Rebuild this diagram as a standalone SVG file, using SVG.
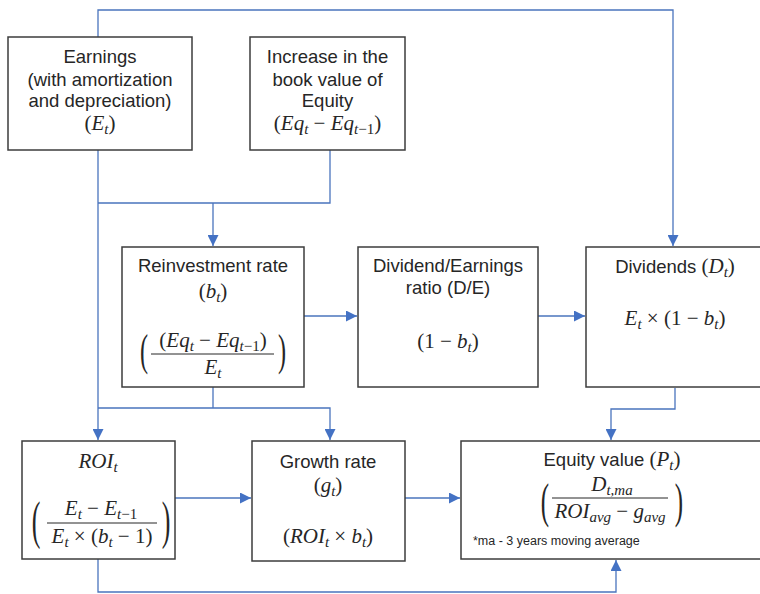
<svg xmlns="http://www.w3.org/2000/svg" width="760" height="594" viewBox="0 0 760 594">
<defs>
<style>
.box{fill:#fff;stroke:#3c3c3c;stroke-width:1.5}
.t{font-family:"Liberation Sans",Arial,sans-serif;font-size:18.5px;fill:#262626;text-anchor:middle}
.fn{font-family:"Liberation Sans",Arial,sans-serif;font-size:12.5px;fill:#262626}
.m{font-family:"Liberation Serif","Times New Roman",serif;font-style:italic;font-size:21px;fill:#262626;text-anchor:middle}
.u{font-style:normal}
.s{font-size:15px}
.p{font-family:"Liberation Serif","Times New Roman",serif;fill:#262626;text-anchor:middle}
.fl{stroke:#262626;stroke-width:1}
.conn{fill:none;stroke:#4a74bd;stroke-width:1.3}
.arr{marker-end:url(#ah)}
</style>
<marker id="ah" viewBox="0 0 10 10" refX="10" refY="5" markerWidth="11" markerHeight="11" markerUnits="userSpaceOnUse" orient="auto">
<path d="M0,0 L10,5 L0,10 Z" fill="#4472c4"/>
</marker>
</defs>
<rect width="760" height="594" fill="#fff"/>

<g id="connectors">
<path class="conn arr" d="M98,37 V10 H673 V246"/>
<path class="conn arr" d="M98,150 V440"/>
<path class="conn" d="M330,150 V203 H98"/>
<path class="conn arr" d="M213,203 V246"/>
<path class="conn arr" d="M304,316 H357"/>
<path class="conn arr" d="M538,316 H585"/>
<path class="conn" d="M213,387 V408"/>
<path class="conn arr" d="M98,408 H330 V440"/>
<path class="conn arr" d="M675,388 V409 H611 V440"/>
<path class="conn arr" d="M175,498 H251"/>
<path class="conn arr" d="M405,498 H460"/>
<path class="conn arr" d="M98,559 V592 H616 V560"/>
</g>

<g id="earnings">
<rect class="box" x="8" y="37" width="184" height="113"/>
<text class="t" x="100" y="63">Earnings</text>
<text class="t" x="100" y="86">(with amortization</text>
<text class="t" x="100" y="107">and depreciation)</text>
<text class="m" x="100" y="130"><tspan class="u">(</tspan>E<tspan class="s" dy="4">t</tspan><tspan class="u" dy="-4">)</tspan></text>
</g>

<g id="increase">
<rect class="box" x="250" y="37" width="155" height="113"/>
<text class="t" x="327.5" y="63">Increase in the</text>
<text class="t" x="327.5" y="86">book value of</text>
<text class="t" x="327.5" y="107">Equity</text>
<text class="m" x="327.5" y="130"><tspan class="u">(</tspan>Eq<tspan class="s" dy="4">t</tspan><tspan class="u" dy="-4"> − </tspan>Eq<tspan class="s" dy="4">t<tspan class="u">−1</tspan></tspan><tspan class="u" dy="-4">)</tspan></text>
</g>

<g id="reinvestment">
<rect class="box" x="122" y="247" width="182" height="140"/>
<text class="t" x="213" y="272">Reinvestment rate</text>
<text class="m" x="213" y="298"><tspan class="u">(</tspan>b<tspan class="s" dy="4">t</tspan><tspan class="u" dy="-4">)</tspan></text>
<text class="m" x="213" y="347"><tspan class="u">(</tspan>Eq<tspan class="s" dy="4">t</tspan><tspan class="u" dy="-4"> − </tspan>Eq<tspan class="s" dy="4">t<tspan class="u">−1</tspan></tspan><tspan class="u" dy="-4">)</tspan></text>
<line class="fl" x1="151" y1="354" x2="274" y2="354"/>
<text class="m" x="213" y="374">E<tspan class="s" dy="4">t</tspan></text>
<text class="p" font-size="44" transform="translate(144,365) scale(0.55,1)">(</text>
<text class="p" font-size="44" transform="translate(282,365) scale(0.55,1)">)</text>
</g>

<g id="de-ratio">
<rect class="box" x="358" y="247" width="180" height="140"/>
<text class="t" x="448" y="272">Dividend/Earnings</text>
<text class="t" x="448" y="294">ratio (D/E)</text>
<text class="m" x="448" y="348"><tspan class="u">(1 − </tspan>b<tspan class="s" dy="4">t</tspan><tspan class="u" dy="-4">)</tspan></text>
</g>

<g id="dividends">
<rect class="box" x="586" y="247" width="184" height="140"/>
<text class="t" x="675" y="273">Dividends <tspan class="m u">(</tspan><tspan class="m">D</tspan><tspan class="m s" dy="4">t</tspan><tspan class="m u" dy="-4">)</tspan></text>
<text class="m" x="675" y="325">E<tspan class="s" dy="4">t</tspan><tspan class="u" dy="-4"> × (1 − </tspan>b<tspan class="s" dy="4">t</tspan><tspan class="u" dy="-4">)</tspan></text>
</g>

<g id="roi">
<rect class="box" x="22" y="441" width="153" height="118"/>
<text class="m" x="98" y="468">ROI<tspan class="s" dy="4">t</tspan></text>
<text class="m" x="101" y="515">E<tspan class="s" dy="4">t</tspan><tspan class="u" dy="-4"> − </tspan>E<tspan class="s" dy="4">t<tspan class="u">−1</tspan></tspan></text>
<line class="fl" x1="47" y1="523" x2="157" y2="523"/>
<text class="m" x="102" y="543">E<tspan class="s" dy="4">t</tspan><tspan class="u" dy="-4"> × (</tspan>b<tspan class="s" dy="4">t</tspan><tspan class="u" dy="-4"> − 1)</tspan></text>
<text class="p" font-size="52" transform="translate(36,538) scale(0.5,1)">(</text>
<text class="p" font-size="52" transform="translate(166,538) scale(0.5,1)">)</text>
</g>

<g id="growth">
<rect class="box" x="252" y="441" width="153" height="120"/>
<text class="t" x="328" y="468">Growth rate</text>
<text class="m" x="328" y="492"><tspan class="u">(</tspan>g<tspan class="s" dy="4">t</tspan><tspan class="u" dy="-4">)</tspan></text>
<text class="m" x="328" y="543"><tspan class="u">(</tspan>ROI<tspan class="s" dy="4">t</tspan><tspan class="u" dy="-4"> × </tspan>b<tspan class="s" dy="4">t</tspan><tspan class="u" dy="-4">)</tspan></text>
</g>

<g id="equity">
<rect class="box" x="461" y="441" width="303" height="118"/>
<text class="t" x="612" y="466">Equity value <tspan class="m u">(</tspan><tspan class="m">P</tspan><tspan class="m s" dy="4">t</tspan><tspan class="m u" dy="-4">)</tspan></text>
<text class="m" x="612" y="491">D<tspan class="s" dy="4">t,ma</tspan></text>
<line class="fl" x1="552" y1="498" x2="668" y2="498"/>
<text class="m" x="610" y="518">ROI<tspan class="s" dy="4">avg</tspan><tspan class="u" dy="-4"> − </tspan>g<tspan class="s" dy="4">avg</tspan></text>
<text class="p" font-size="48" transform="translate(545,517) scale(0.52,1)">(</text>
<text class="p" font-size="48" transform="translate(679,517) scale(0.52,1)">)</text>
<text class="fn" x="473" y="545">*ma - 3 years moving average</text>
</g>
</svg>
